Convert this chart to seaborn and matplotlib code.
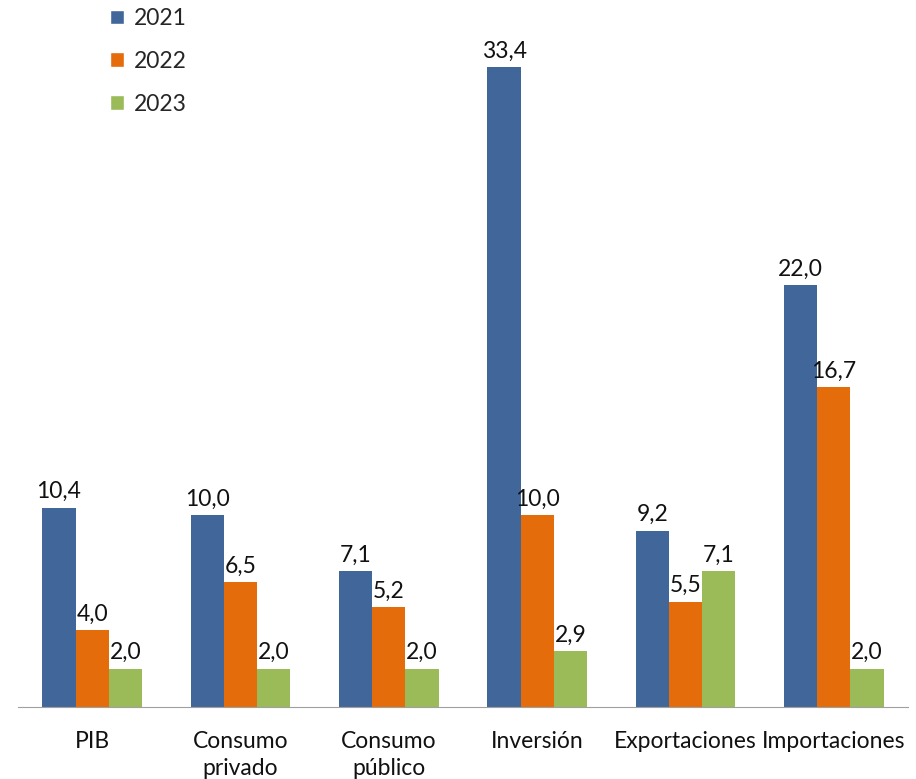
import matplotlib
matplotlib.use('Agg')
import matplotlib.pyplot as plt
import seaborn as sns
import pandas as pd
import numpy as np
from matplotlib.patches import Patch

categories = ['PIB', 'Consumo\nprivado', 'Consumo\npúblico', 'Inversión', 'Exportaciones', 'Importaciones']
years = ['2021', '2022', '2023']
v2021 = [10.4, 10.0, 7.1, 33.4, 9.2, 22.0]
v2022 = [4.0, 6.5, 5.2, 10.0, 5.5, 16.7]
v2023 = [2.0, 2.0, 2.0, 2.9, 7.1, 2.0]
colors = ['#41679A', '#E46C0A', '#9BBB59']

rows = []
for y, vals in zip(years, [v2021, v2022, v2023]):
    for c, v in zip(categories, vals):
        rows.append({'cat': c, 'year': y, 'value': v})
df = pd.DataFrame(rows)

sns.set_style('white')
plt.rcParams['font.family'] = ['Lato', 'DejaVu Sans']

fig = plt.figure(figsize=(9.16, 7.79), dpi=100)
ax = fig.add_axes([18/916, 72/779, 890/916, 707/779])

sns.barplot(data=df, x='cat', y='value', hue='year', palette=colors,
            order=categories, hue_order=years, width=0.67, saturation=1,
            linewidth=0, ax=ax, legend=False)

for cont in ax.containers:
    labels = [('%.1f' % b.get_height()).replace('.', ',') for b in cont]
    ax.bar_label(cont, labels=labels, padding=4, fontsize=16.5, color='#111111')

ax.set_ylim(0, 36.9)
ax.set_xlim(-0.5, len(categories) - 0.5)
ax.set_xlabel('')
ax.set_ylabel('')
ax.set_yticks([])
for s in ['top', 'right', 'left']:
    ax.spines[s].set_visible(False)
ax.spines['bottom'].set_color('#A0A0A0')
ax.tick_params(axis='x', which='major', length=0, labelsize=16.5, pad=17, colors='#111111')
for lab in ax.get_xticklabels():
    lab.set_linespacing(1.35)
ax.set_xticks(np.arange(-0.5, len(categories)), minor=True)
ax.tick_params(axis='x', which='minor', length=8, color='#A0A0A0', direction='out')

handles = [Patch(facecolor=c, label=y) for c, y in zip(colors, years)]
fig.legend(handles=handles, loc='upper left', bbox_to_anchor=(110/916, 771/779), frameon=False,
           borderpad=0, borderaxespad=0, fontsize=16.5, handlelength=0.6, handleheight=0.6,
           labelspacing=0.95, handletextpad=0.45)

fig.savefig('out.png', dpi=100)
